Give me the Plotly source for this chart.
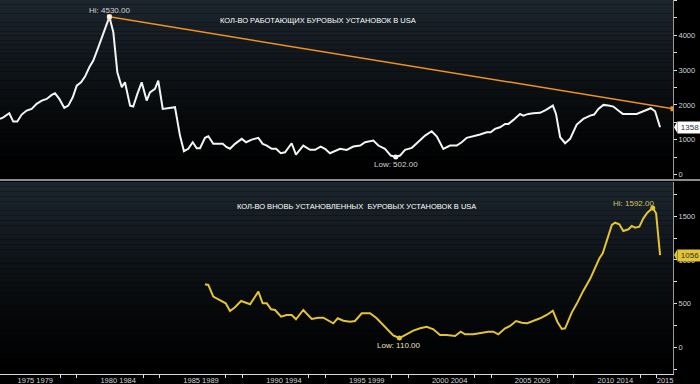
import plotly.graph_objects as go

# ---------------- data ----------------
years_rigs = [1975.37, 1975.57, 1975.93, 1976.17, 1976.41, 1976.68, 1976.98, 1977.28, 1977.58, 1977.89,
              1978.19, 1978.49, 1978.69, 1978.95, 1979.25, 1979.49, 1979.76, 1980.00, 1980.26, 1980.50,
              1980.76, 1981.00, 1981.30, 1981.60, 1981.97, 1982.21, 1982.45, 1982.72, 1982.91, 1983.22,
              1983.41, 1983.66, 1983.92, 1984.22, 1984.42, 1984.72, 1984.92, 1985.19, 1985.93, 1986.23,
              1986.47, 1986.73, 1987.00, 1987.24, 1987.44, 1987.74, 1987.94, 1988.24, 1988.54, 1988.81,
              1989.05, 1989.25, 1989.55, 1989.96, 1990.22, 1990.56, 1990.96, 1991.22, 1991.47, 1991.77,
              1992.03, 1992.31, 1992.57, 1992.97, 1993.23, 1993.67, 1994.08, 1994.38, 1994.72, 1994.98,
              1995.28, 1995.65, 1995.89, 1996.29, 1996.69, 1997.10, 1997.40, 1997.90, 1998.20, 1998.60,
              1998.95, 1999.25, 1999.51, 1999.81, 2000.22, 2000.52, 2001.02, 2001.42, 2001.73, 2002.12,
              2002.53, 2002.93, 2003.23, 2003.53, 2003.93, 2004.34, 2004.74, 2004.98, 2005.24, 2005.54,
              2005.85, 2006.05, 2006.35, 2006.75, 2006.95, 2007.25, 2007.55, 2007.96, 2008.32, 2008.73,
              2008.92, 2009.17, 2009.47, 2009.77, 2010.17, 2010.57, 2010.98, 2011.22, 2011.48, 2011.78,
              2012.08, 2012.38, 2012.68, 2012.95, 2013.39, 2013.79, 2014.19, 2014.64, 2014.90, 2015.20]
rigs = [1598, 1644, 1759, 1521, 1521, 1722, 1837, 1885, 2029, 2124,
        2172, 2287, 2334, 2172, 1914, 1980, 2219, 2554, 2649, 2813,
        3080, 3272, 3654, 4037, 4530, 4084, 2936, 2506, 2649, 1980,
        1952, 2316, 2649, 2124, 2362, 2459, 2698, 1885, 1933, 1119,
        669, 737, 927, 755, 755, 1053, 1099, 881, 881, 881,
        784, 740, 881, 1024, 927, 1004, 1053, 881, 832, 737,
        737, 611, 640, 898, 574, 832, 708, 708, 804, 737,
        611, 689, 737, 708, 804, 832, 927, 976, 832, 737,
        545, 502, 545, 708, 766, 898, 1119, 1243, 1090, 737,
        832, 832, 927, 1053, 1090, 1148, 1215, 1215, 1311, 1358,
        1454, 1454, 1569, 1741, 1693, 1741, 1759, 1771, 1857, 1980,
        1741, 1071, 898, 1024, 1435, 1598, 1693, 1722, 1885, 2000,
        1980, 1952, 1837, 1741, 1741, 1741, 1817, 1904, 1817, 1358]

years_new = [1987.74, 1987.94, 1988.24, 1988.65, 1988.99, 1989.25, 1989.55, 1989.92, 1990.20, 1990.46,
             1990.96, 1991.22, 1991.47, 1991.73, 1991.97, 1992.33, 1992.67, 1992.97, 1993.23, 1993.67,
             1994.18, 1994.58, 1994.88, 1995.18, 1995.48, 1995.75, 1996.09, 1996.49, 1996.79, 1997.20,
             1997.70, 1998.10, 1998.60, 1998.90, 1999.10, 1999.47, 1999.81, 2000.31, 2000.72, 2001.12,
             2001.52, 2001.92, 2002.33, 2002.83, 2003.17, 2003.43, 2003.93, 2004.44, 2004.84, 2005.14,
             2005.44, 2005.85, 2006.15, 2006.51, 2006.86, 2007.19, 2007.55, 2007.96, 2008.36, 2008.73,
             2009.00, 2009.27, 2009.47, 2009.87, 2010.17, 2010.57, 2010.98, 2011.28, 2011.54, 2011.74,
             2012.02, 2012.29, 2012.49, 2012.74, 2012.98, 2013.29, 2013.49, 2013.69, 2013.95, 2014.19,
             2014.43, 2014.76, 2014.96, 2015.20]
new_rigs = [723, 715, 582, 536, 506, 418, 461, 532, 513, 495,
            639, 506, 506, 438, 430, 354, 373, 373, 324, 430,
            327, 342, 342, 308, 278, 335, 308, 296, 304, 392,
            392, 335, 239, 182, 140, 110, 145, 194, 221, 239,
            210, 145, 145, 133, 182, 153, 153, 171, 182, 182,
            153, 221, 247, 304, 285, 278, 304, 335, 373, 422,
            296, 213, 221, 400, 500, 650, 785, 905, 1019, 1076,
            1247, 1399, 1425, 1407, 1331, 1350, 1388, 1368, 1380, 1475,
            1539, 1592, 1532, 1056]

trend_years = [1981.97, 2015.98]
trend_vals = [4530, 1890]

hi_rigs = (1981.97, 4530)
low_rigs = (1999.25, 502)
hi_new = (2014.76, 1592)
low_new = (1999.47, 110)
last_rigs = 1358
last_new = 1056

xtick_pos = [1977.5, 1982.5, 1987.5, 1992.5, 1997.5, 2002.5, 2007.5, 2012.5, 2015.5]
xtick_text = ["1975 1979", "1980 1984", "1985 1989", "1990 1994", "1995 1999",
              "2000 2004", "2005 2009", "2010 2014", "2015"]
xminor_pos = [1975, 1979, 1980, 1984, 1985, 1989, 1990, 1994, 1995, 1999,
              2000, 2004, 2005, 2009, 2010, 2014, 2015]

title_top = "КОЛ-ВО РАБОТАЮЩИХ БУРОВЫХ УСТАНОВОК В USA"
title_bottom = "КОЛ-ВО ВНОВЬ УСТАНОВЛЕННЫХ  БУРОВЫХ УСТАНОВОК В USA"

# ---------------- styling ----------------
WHITE = "#f4f4f4"
YELLOW = "#e3c434"
ORANGE = "#f0921e"
LABEL = "#d2d2d2"
FONT = "Liberation Sans"
XR = [1975.37, 2015.98]

fig = go.Figure()

fig.add_trace(go.Scatter(x=years_rigs, y=rigs, mode="lines", xaxis="x", yaxis="y",
                         line=dict(color=WHITE, width=2), hoverinfo="skip"))
fig.add_trace(go.Scatter(x=trend_years, y=trend_vals, mode="lines+markers", xaxis="x", yaxis="y",
                         line=dict(color=ORANGE, width=1.5),
                         marker=dict(color=ORANGE, size=5, symbol="square"), hoverinfo="skip"))
fig.add_trace(go.Scatter(x=[hi_rigs[0], low_rigs[0]], y=[hi_rigs[1], low_rigs[1]], mode="markers",
                         xaxis="x", yaxis="y", marker=dict(color=WHITE, size=5), hoverinfo="skip"))
fig.add_trace(go.Scatter(x=years_new, y=new_rigs, mode="lines", xaxis="x2", yaxis="y2",
                         line=dict(color=YELLOW, width=2), hoverinfo="skip"))
fig.add_trace(go.Scatter(x=[hi_new[0], low_new[0]], y=[hi_new[1], low_new[1]], mode="markers",
                         xaxis="x2", yaxis="y2", marker=dict(color=YELLOW, size=5), hoverinfo="skip"))

# gradient backgrounds
shapes = []
N = 40
top_c = (28, 37, 46)
for ax_x, ax_y in (("x", "y"), ("x2", "y2")):
    for i in range(N):
        t = i / (N - 1)
        c = tuple(int(round(v * (1 - t) ** 1.3)) for v in top_c)
        shapes.append(dict(type="rect", xref=f"{ax_x} domain", yref=f"{ax_y} domain",
                           x0=0, x1=1, y0=1 - (i + 1) / N, y1=1 - i / N,
                           fillcolor=f"rgb({c[0]},{c[1]},{c[2]})", line=dict(width=0), layer="below"))

PLOT_H = 374
def py(px):
    return (PLOT_H - px) / PLOT_H

# separator
shapes.append(dict(type="line", xref="paper", yref="paper", x0=0, x1=1.05, y0=py(180), y1=py(180),
                   line=dict(color="#8c8c8c", width=2)))

# last value tag tips
shapes.append(dict(type="path", xref="paper", yref="y",
                   path=f"M 1.0015,{last_rigs} L 1.0065,{last_rigs + 175} L 1.0065,{last_rigs - 175} Z",
                   fillcolor="#ffffff", line=dict(width=0)))
shapes.append(dict(type="path", xref="paper", yref="y2",
                   path=f"M 1.0015,{last_new} L 1.0065,{last_new + 70} L 1.0065,{last_new - 70} Z",
                   fillcolor=YELLOW, line=dict(width=0)))

annotations = [
    dict(text=title_top, xref="paper", yref="paper", x=318 / 673, y=py(14), showarrow=False,
         font=dict(family=FONT, size=7.5, color="#ffffff")),
    dict(text=title_bottom, xref="paper", yref="paper", x=356 / 673, y=py(206), showarrow=False,
         font=dict(family=FONT, size=7.5, color="#ffffff")),
    dict(text=f"Hi: {hi_rigs[1]:.2f}", x=hi_rigs[0], y=hi_rigs[1], xref="x", yref="y",
         showarrow=False, yshift=6, font=dict(family=FONT, size=8, color=LABEL)),
    dict(text=f"Low: {low_rigs[1]:.2f}", x=low_rigs[0], y=low_rigs[1], xref="x", yref="y",
         showarrow=False, yshift=-7, font=dict(family=FONT, size=8, color=LABEL)),
    dict(text=f"Low: {low_new[1]:.2f}", x=low_new[0], y=low_new[1], xref="x2", yref="y2",
         showarrow=False, yshift=-7, font=dict(family=FONT, size=8, color="#e8e2b8")),
    dict(text=f"Hi: {hi_new[1]:.2f}", x=hi_new[0], y=hi_new[1], xref="x2", yref="y2",
         showarrow=False, yshift=5, xanchor="right", xshift=3,
         font=dict(family=FONT, size=8, color="#d8c660")),
    dict(text=str(last_rigs), x=1, y=last_rigs, xref="paper", yref="y", xanchor="left", xshift=4,
         showarrow=False, bgcolor="#ffffff", borderpad=1, width=22,
         font=dict(family=FONT, size=8, color="#303030")),
    dict(text=str(last_new), x=1, y=last_new, xref="paper", yref="y2", xanchor="left", xshift=4,
         showarrow=False, bgcolor=YELLOW, borderpad=1, width=22,
         font=dict(family=FONT, size=8, color="#303030")),
]

yaxis_common = dict(side="right", showgrid=False, zeroline=False, showline=True, linecolor="#9a9a9a",
                    linewidth=1, ticks="outside", ticklen=3, tickcolor="#e0e0e0",
                    tickfont=dict(family=FONT, size=7.5, color=LABEL), fixedrange=True)

fig.update_layout(
    width=700, height=384,
    margin=dict(l=0, r=27, t=0, b=10),
    paper_bgcolor="#000000", plot_bgcolor="#000000",
    showlegend=False,
    shapes=shapes,
    annotations=annotations,
    xaxis=dict(domain=[0, 1], anchor="y", range=XR, showticklabels=False, showgrid=False,
               zeroline=False, ticks=""),
    yaxis=dict(domain=[py(179), 1], anchor="x", range=[-129, 5014],
               tickvals=[0, 1000, 2000, 3000, 4000, 5000],
               minor=dict(dtick=500, tick0=0, ticks="outside", ticklen=3, tickcolor="#e0e0e0"),
               **yaxis_common),
    xaxis2=dict(domain=[0, 1], anchor="y2", range=XR, showgrid=False, zeroline=False,
                showline=True, linecolor="#d8d8d8", linewidth=1,
                tickmode="array", tickvals=xtick_pos, ticktext=xtick_text, ticks="",
                ticklabelstandoff=-1,
                tickfont=dict(family=FONT, size=7.5, color=LABEL),
                minor=dict(tickvals=xminor_pos, ticks="outside", ticklen=3, tickcolor="#e0e0e0")),
    yaxis2=dict(domain=[0, py(182)], anchor="x2", range=[-300, 1889],
                tickvals=[0, 500, 1000, 1500],
                minor=dict(dtick=250, tick0=0, ticks="outside", ticklen=3, tickcolor="#e0e0e0"),
                **yaxis_common),
)

fig.write_html("out.html", config={"displayModeBar": False},
               post_script="document.body.style.margin='0';document.body.style.background='#000';")
